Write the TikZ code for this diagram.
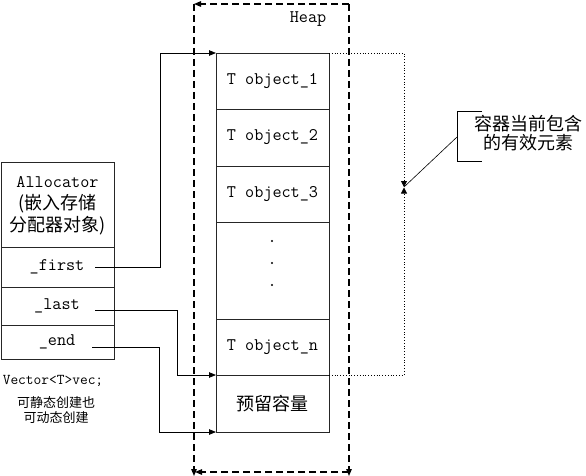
\documentclass[tikz,border=0pt]{standalone}
\usepackage{fontspec}
\newfontfamily\cjk{Noto Sans CJK SC}
\usetikzlibrary{arrows.meta}
\begin{document}
\begin{tikzpicture}[x=1pt,y=-1pt,
  cell/.style={draw=black!85,line width=0.8pt,fill=white,minimum width=113pt,inner sep=0pt,outer sep=0pt,font=\ttfamily\fontsize{17.7}{20}\selectfont},
  lab/.style={inner sep=0pt,font=\ttfamily\fontsize{17.7}{20}\selectfont},
  arr/.style={-{Triangle[length=7pt,width=5.5pt]}},
  darr/.style={-{Triangle[length=6pt,width=6pt,sep=0pt]}},
  link/.style={line width=0.8pt,draw=black},
  heapline/.style={line width=1.2pt,dash pattern=on 7pt off 4pt},
  dots/.style={line width=0.8pt,dotted}]
\useasboundingbox (0,0) rectangle (586,476);
% heap dashed frame
\coordinate (hTL) at (194,4);
\coordinate (hTR) at (349,4);
\coordinate (hBL) at (194,472);
\coordinate (hBR) at (349,472);
\draw[heapline,arr] (hTR) -- (hTL);
\draw[heapline,arr] (hTL) -- ([yshift=-4pt]hBL);
\draw[heapline,arr] (hBR) -- ([xshift=1pt]hBL);
\draw[heapline,arr] (hTR) -- ([yshift=-4pt]hBR);
\node[lab] (heap) at (308,19) {Heap};
% heap cells
\node[cell,minimum height=56pt] (c1) at (272.5,81) {T object\_1};
\node[cell,minimum height=57pt] (c2) at (272.5,137.5) {T object\_2};
\node[cell,minimum height=56pt] (c3) at (272.5,194) {T object\_3};
\node[cell,minimum height=97pt] (cd) at (272.5,270.5) {};
\node[cell,minimum height=56pt] (cn) at (272.5,347) {T object\_n};
\node[cell,minimum height=57pt,font=\cjk\fontsize{18}{21}\selectfont] (cr) at (272.5,403.5) {预留容量};
\fill (272,241) circle (1.2pt) (272,263) circle (1.2pt) (272,285) circle (1.2pt);
% allocator
\node[cell,minimum height=85pt,align=center] (alloc) at (57.5,204.5) {};
\node[lab,align=center] (alT) at (57.5,182) {Allocator};
\node[inner sep=0pt,align=center,font=\cjk\fontsize{18}{22.5}\selectfont] (alC) at (57.5,214.5) {(嵌入存储\\分配器对象)};
\node[cell,minimum height=40pt] (first) at (57.5,267) {};
\node[cell,minimum height=38pt] (last) at (57.5,306) {};
\node[cell,minimum height=34pt] (end) at (57.5,342) {};
\node[lab] (firstT) at (57,267) {\_first};
\node[lab] (lastT) at (57,306) {\_last};
\node[lab] (endT) at (57,342) {\_end};
\node[inner sep=0pt,font=\ttfamily\fontsize{15}{17}\selectfont] (vec) at (53,381) {Vector<T>vec;};
\node[inner sep=0pt,align=center,font=\cjk\fontsize{13}{15}\selectfont] (vecN) at (56,410.5) {可静态创建也\\可动态创建};
% pointers
\coordinate (fs) at (95,267);
\coordinate (ls) at (95,310);
\coordinate (es) at (92,347);
\draw[link,arr] (fs) -- ++(65,0) |- (c1.north west);
\draw[link,arr] (ls) -- ++(82,0) |- (cn.south west);
\draw[link,arr] (es) -- ++(67,0) |- (cr.south west);
% dotted bracket
\coordinate (mt) at (404,187);
\coordinate (mb) at (404,187.5);
\draw[dots,darr] (c1.north east) -| (mt);
\draw[dots,darr] (cn.south east) -| (mb);
% callout
\node[inner sep=0pt,align=center,font=\cjk\fontsize{18}{19.5}\selectfont] (note) at (528,133) {容器当前包含\\的有效元素};
\coordinate (bk) at (457,137);
\draw[line width=0.8pt] (482,111) -- (457,111) -- (457,161) -- (482,161);
\draw[line width=0.6pt] (bk) -- (mt);
\end{tikzpicture}
\end{document}
